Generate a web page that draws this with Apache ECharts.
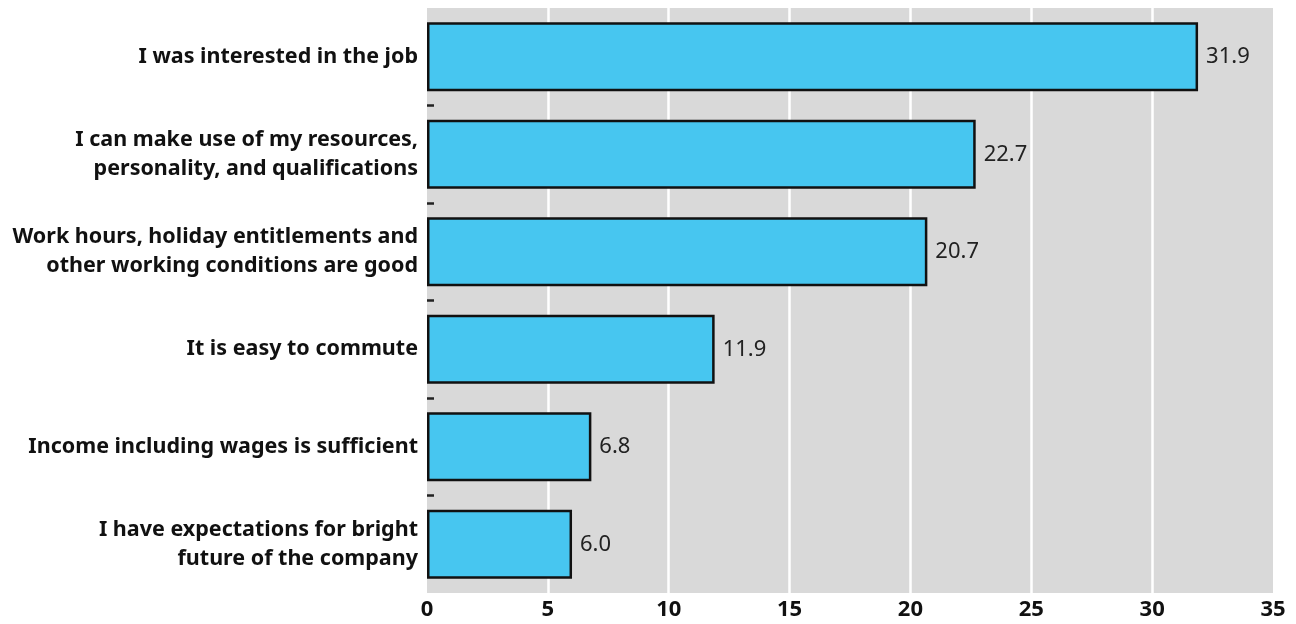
<!DOCTYPE html>
<html>
<head>
<meta charset="utf-8">
<script src="https://cdn.jsdelivr.net/npm/echarts@6/dist/echarts.min.js"></script>
<style>
  html, body { margin: 0; padding: 0; background: #fff; }
  #echart { width: 1296px; height: 624px; }
</style>
</head>
<body>
<div id="echart"></div>
<script>
var categories = [
    'I was interested in the job',
    'I can make use of my resources,\npersonality, and qualifications',
    'Work hours, holiday entitlements and\nother working conditions are good',
    'It is easy to commute',
    'Income including wages is sufficient',
    'I have expectations for bright\nfuture of the company'
];
var values = [31.9, 22.7, 20.7, 11.9, 6.8, 6.0];
var xTicks = [0, 5, 10, 15, 20, 25, 30, 35];

function drawChart(){
	if( typeof (echarts) === 'undefined'){ console.log('echarts is undefined'); return; }
	var echart = echarts.init(document.getElementById('echart'));
	var font = '"Noto Sans", sans-serif';
	echart.setOption({
	    animation: false,
	    grid: {
	        left: 427, right: 23, top: 8, bottom: 31,
	        show: true,
	        backgroundColor: '#d9d9d9',
	        borderWidth: 0
	    },
	    xAxis: {
	        type: 'value',
	        min: xTicks[0],
	        max: xTicks[xTicks.length - 1],
	        interval: xTicks[1] - xTicks[0],
	        axisLine: { show: false },
	        axisTick: { show: false },
	        axisLabel: {
	            color: '#111', fontSize: 22, fontWeight: 'bold', fontFamily: font, margin: 6
	        },
	        splitLine: {
	            show: true, showMinLine: false, showMaxLine: false,
	            lineStyle: { color: '#ffffff', width: 2.5 }
	        }
	    },
	    yAxis: [{
	        type: 'category',
	        data: categories,
	        inverse: true,
	        axisLine: { show: false },
	        axisTick: { show: false },
	        axisLabel: {
	            color: '#111', fontSize: 21.5, fontWeight: 'bold', fontFamily: font,
	            lineHeight: 29, margin: 9, align: 'right'
	        }
	    }, {
	        // hidden helper axis that draws the small dashes between categories
	        type: 'value',
	        position: 'left',
	        min: 0,
	        max: categories.length,
	        interval: categories.length,
	        inverse: true,
	        axisLine: { show: false },
	        axisLabel: { show: false },
	        splitLine: { show: false },
	        axisTick: { show: false, inside: true },
	        minorTick: {
	            show: true, splitNumber: categories.length, length: 7,
	            lineStyle: { color: '#222', width: 2.5 }
	        }
	    }],
	    series: [{
	        type: 'bar',
	        data: values,
	        barCategoryGap: '29%',
	        itemStyle: { color: '#47c6f0', borderColor: '#111', borderWidth: 2.5 },
	        label: {
	            show: true, position: 'right', distance: 8,
	            color: '#222', fontSize: 22, fontFamily: font,
	            formatter: function (p) { return p.value.toFixed(1); }
	        }
	    }]
	});
}
drawChart();
</script>
</body>
</html>
